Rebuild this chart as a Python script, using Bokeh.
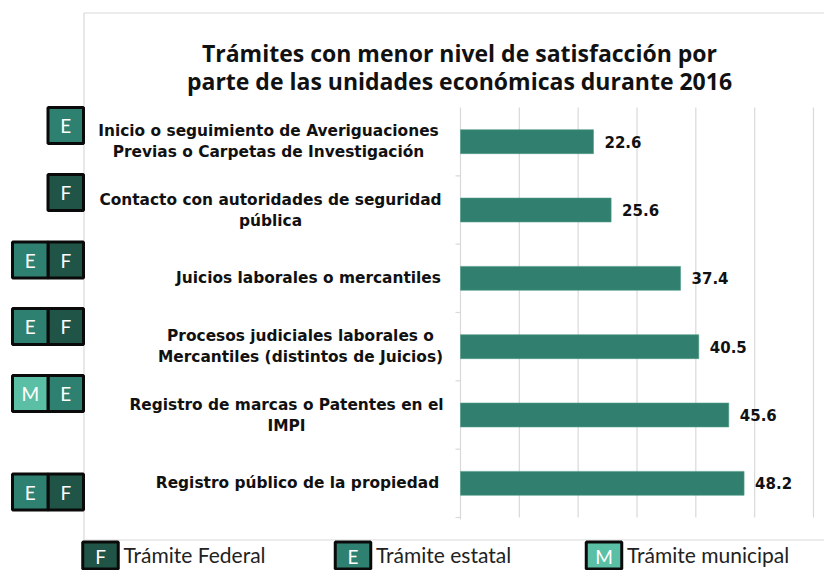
from bokeh.plotting import figure
from bokeh.models import Range1d
from bokeh.core.properties import value
from bokeh.embed import file_html
from bokeh.resources import INLINE

# ---------------- data ----------------
categories = [
    "Inicio o seguimiento de Averiguaciones\nPrevias o Carpetas de Investigación",
    "Contacto con autoridades de seguridad\npública",
    "Juicios laborales o mercantiles",
    "Procesos judiciales laborales o\nMercantiles (distintos de Juicios)",
    "Registro de marcas o Patentes en el\nIMPI",
    "Registro público de la propiedad",
]
values = [22.6, 25.6, 37.4, 40.5, 45.6, 48.2]
badges = [["E"], ["F"], ["E", "F"], ["E", "F"], ["M", "E"], ["E", "F"]]
x_ticks = [10, 20, 30, 40, 50, 60]
title_lines = ["Trámites con menor nivel de satisfacción por",
               "parte de las unidades económicas durante 2016"]
legend_letters = ["F", "E", "M"]
legend_labels = ["Trámite Federal", "Trámite estatal", "Trámite municipal"]

# ---------------- style / layout ----------------
COL = {"F": "#1f5446", "E": "#2e8070", "M": "#5bbfa6"}
BAR = "#31806f"
GRID = "#d9d9d9"
W, H = 824, 570
OFF = 0
# plot-area in page pixels
XL, XR, YT, YB = 460, 813, 107, 517
XMAX = 60
XS = (XR - XL) / XMAX
YS = (YB - YT) / len(categories)
LABEL_FONT = "DejaVu Sans"


def sx(px):
    return (px - XL) / XS


def sy(py):
    return (YB - py) / YS


p = figure(width=W, height=H, output_backend="svg", toolbar_location=None,
           x_range=Range1d(sx(OFF), sx(OFF + W)),
           y_range=Range1d(sy(OFF + H), sy(OFF)),
           x_axis_type=None, y_axis_type=None, min_border=0)
p.grid.visible = False
p.outline_line_color = None
p.background_fill_color = "white"
p.border_fill_color = "white"

n = len(categories)
ypos = [n - i - 0.5 for i in range(n)]

# outer chart frame
p.quad(left=[sx(83.5)], right=[sx(900)], top=[sy(12.5)], bottom=[sy(539.5)],
       fill_color=None, line_color=GRID, line_width=1.2)

# grid lines
p.segment(x0=x_ticks, x1=x_ticks, y0=[0] * len(x_ticks), y1=[sy(YT)] * len(x_ticks),
          line_color=GRID, line_width=1.2)
# category axis with small ticks
p.segment(x0=[0], x1=[0], y0=[sy(YB + 2)], y1=[n], line_color=GRID, line_width=1.2)
bounds = list(range(0, n))
p.segment(x0=[0] * len(bounds), x1=[sx(XL - 5)] * len(bounds), y0=bounds, y1=bounds,
          line_color=GRID, line_width=1.2)

# bars
p.hbar(y=ypos, left=0, right=values, height=0.35, fill_color=BAR,
       line_color="#4f9a88", line_width=0.6)

# value labels
p.text(x=values, y=ypos, text=[f"{v:.1f}" for v in values], x_offset=11,
       text_align="left", text_baseline="middle", text_font=value(LABEL_FONT),
       text_font_style="bold", text_font_size="15px", text_color="#111111")

# category labels (each line centred in a right-side block)
label_cx = [268, 270, 308, 300, 286, 297]
LINE_GAP = 21
lx, ly, lt = [], [], []
for i, cat in enumerate(categories):
    lines = cat.split("\n")
    k = len(lines)
    for j, line in enumerate(lines):
        off_px = (j - (k - 1) / 2) * LINE_GAP
        lx.append(sx(label_cx[i]))
        ly.append(ypos[i] - off_px / YS)
        lt.append(line)
p.text(x=lx, y=ly, text=lt, text_align="center", text_baseline="middle",
       text_font=value(LABEL_FONT), text_font_style="bold", text_font_size="15.4px",
       text_color="#111111")

# badges to the left of the chart frame
badge_cy = [125, 192, 259.5, 326, 393, 491.5]
CELL_W, CELL_H = 35.5, 36
BADGE_RIGHT = 83
bx, by, bc, bl = [], [], [], []
for i, row in enumerate(badges):
    for j, letter in enumerate(reversed(row)):
        cx = BADGE_RIGHT - CELL_W * (j + 0.5)
        bx.append(sx(cx))
        by.append(sy(badge_cy[i]))
        bc.append(COL[letter])
        bl.append(letter)
p.rect(x=bx, y=by, width=CELL_W, height=CELL_H, width_units="screen",
       height_units="screen", fill_color=bc, line_color="#0a0a0a", line_width=3)
p.text(x=bx, y=by, text=bl, text_align="center", text_baseline="middle",
       text_font=value("Lato"), text_font_size="19px", text_color="white")

# legend
leg_box_cx = [100, 352.5, 603.5]
LEG_BOX_CY, LEG_BOX_H = 555, 27
LEG_TEXT_CY = 554
p.rect(x=[sx(c) for c in leg_box_cx], y=[sy(LEG_BOX_CY)] * 3, width=CELL_W,
       height=LEG_BOX_H, width_units="screen", height_units="screen",
       fill_color=[COL[l] for l in legend_letters], line_color="#0a0a0a", line_width=3)
p.text(x=[sx(c) for c in leg_box_cx], y=[sy(LEG_BOX_CY + 1)] * 3, text=legend_letters,
       text_align="center", text_baseline="middle", text_font=value("Lato"),
       text_font_size="19px", text_color="white")
p.text(x=[sx(c + 23) for c in leg_box_cx], y=[sy(LEG_TEXT_CY)] * 3, text=legend_labels,
       text_align="left", text_baseline="middle", text_font=value("Lato"),
       text_font_size="21px", text_color="#222222")

# title
p.text(x=[sx(459)] * 2, y=[sy(52), sy(80)], text=title_lines, text_align="center",
       text_baseline="alphabetic", text_font=value("Open Sans"), text_font_style="bold",
       text_font_size="23px", text_color="#111111")

open("out.html", "w").write(file_html(p, INLINE))
